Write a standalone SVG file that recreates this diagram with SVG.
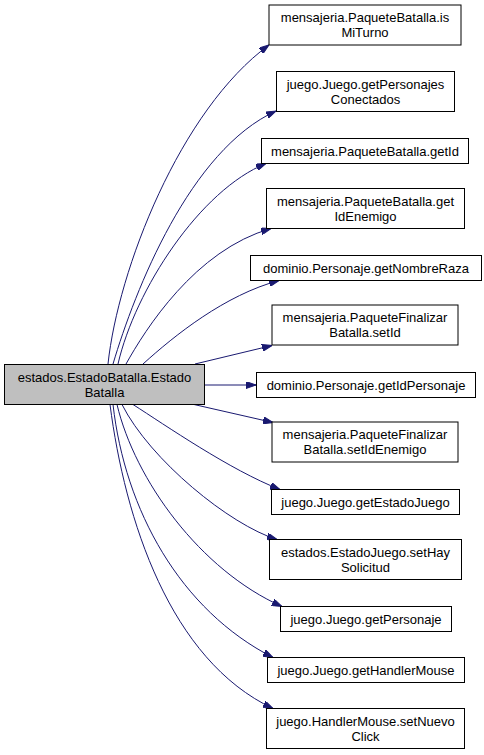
<svg xmlns="http://www.w3.org/2000/svg" width="484" height="755" viewBox="0 0 484 755">
<style>
.n rect{fill:#ffffff;stroke:#000000;stroke-width:1}
.m rect{fill:#bfbfbf;stroke:#000000;stroke-width:1}
text{font-family:"Liberation Sans",Arial,sans-serif;font-size:13px;fill:#000000;text-anchor:middle}
.e path{fill:none;stroke:#191970;stroke-width:1;marker-end:url(#ah)}
</style>
<defs>
<marker id="ah" viewBox="0 0 10 7" refX="10" refY="3.5" markerWidth="10" markerHeight="7" markerUnits="userSpaceOnUse" orient="auto">
<path d="M0,0 L10,3.5 L0,7 z" fill="#191970" stroke="#191970" stroke-width="1"/>
</marker>
</defs>
<rect width="484" height="755" fill="#ffffff"/>
<g id="edges" class="e">
<path d="M108,364 C118,270 180,110 269,45"/>
<path d="M113,364 C135,290 190,150 276,111"/>
<path d="M118,364 C135,290 200,190 266,163.5"/>
<path d="M126,364 C145,330 195,250 271,228.5"/>
<path d="M143,364 C175,335 225,295 279,280.5"/>
<path d="M195,364 L272,345.5"/>
<path d="M204.5,385 L256,385"/>
<path d="M194,404.5 L273,422.5"/>
<path d="M133,404.5 C165,425 230,470 280,489.5"/>
<path d="M122,404.5 C150,460 230,525 277,539.5"/>
<path d="M117,404.5 C135,480 200,570 282,606.5"/>
<path d="M113,404.5 C125,510 180,610 273,657.5"/>
<path d="M110,404.5 C125,520 170,660 273,708.5"/>
</g>
<g id="main" class="m">
<rect x="4.5" y="364.5" width="200" height="40"/>
<text x="104.5" y="381.5">estados.EstadoBatalla.Estado</text>
<text x="104.5" y="396.5">Batalla</text>
</g>
<g id="n1" class="n">
<rect x="269" y="5" width="192" height="40"/>
<text x="365" y="22">mensajeria.PaqueteBatalla.is</text>
<text x="365" y="37">MiTurno</text>
</g>
<g id="n2" class="n">
<rect x="276.5" y="71.5" width="178" height="40"/>
<text x="365.5" y="88.5">juego.Juego.getPersonajes</text>
<text x="365.5" y="103.5">Conectados</text>
</g>
<g id="n3" class="n">
<rect x="261.5" y="138.5" width="207" height="25"/>
<text x="365" y="155.5">mensajeria.PaqueteBatalla.getId</text>
</g>
<g id="n4" class="n">
<rect x="266.5" y="188.5" width="198" height="40"/>
<text x="365.5" y="205.5">mensajeria.PaqueteBatalla.get</text>
<text x="365.5" y="220.5">IdEnemigo</text>
</g>
<g id="n5" class="n">
<rect x="250.5" y="255.5" width="231" height="25"/>
<text x="366" y="272.5">dominio.Personaje.getNombreRaza</text>
</g>
<g id="n6" class="n">
<rect x="272" y="305" width="186" height="40"/>
<text x="365" y="322">mensajeria.PaqueteFinalizar</text>
<text x="365" y="337">Batalla.setId</text>
</g>
<g id="n7" class="n">
<rect x="256.5" y="372.5" width="219" height="25"/>
<text x="366" y="389.5">dominio.Personaje.getIdPersonaje</text>
</g>
<g id="n8" class="n">
<rect x="272" y="422" width="186" height="40"/>
<text x="365" y="439">mensajeria.PaqueteFinalizar</text>
<text x="365" y="454">Batalla.setIdEnemigo</text>
</g>
<g id="n9" class="n">
<rect x="271.5" y="489.5" width="188" height="25"/>
<text x="365.5" y="506.5">juego.Juego.getEstadoJuego</text>
</g>
<g id="n10" class="n">
<rect x="269.5" y="539.5" width="192" height="40"/>
<text x="365.5" y="556.5">estados.EstadoJuego.setHay</text>
<text x="365.5" y="571.5">Solicitud</text>
</g>
<g id="n11" class="n">
<rect x="280.5" y="606.5" width="171" height="25"/>
<text x="366" y="623.5">juego.Juego.getPersonaje</text>
</g>
<g id="n12" class="n">
<rect x="267.5" y="657.5" width="197" height="25"/>
<text x="366" y="674.5">juego.Juego.getHandlerMouse</text>
</g>
<g id="n13" class="n">
<rect x="266.5" y="708.5" width="198" height="40"/>
<text x="365.5" y="725.5">juego.HandlerMouse.setNuevo</text>
<text x="365.5" y="740.5">Click</text>
</g>
</svg>
